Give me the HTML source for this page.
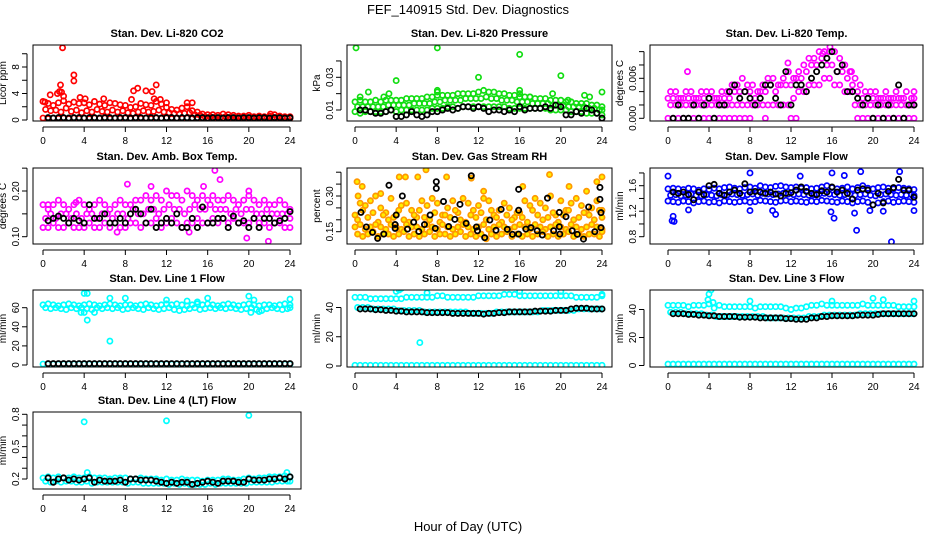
<!DOCTYPE html>
<html><head><meta charset="utf-8"><style>
html,body{margin:0;padding:0;background:#fff;}
svg{display:block;font-family:"Liberation Sans",sans-serif;}
</style></head><body>
<svg id="chart" width="936" height="540" viewBox="0 0 936 540" xmlns="http://www.w3.org/2000/svg">
<text x="468" y="14" text-anchor="middle" font-size="13">FEF_140915  Std. Dev. Diagnostics</text>
<text x="468" y="531" text-anchor="middle" font-size="13">Hour of Day (UTC)</text>
</svg>
<script>
const H=[0,0.5,1,1.5,2,2.5,3,3.5,4,4.5,5,5.5,6,6.5,7,7.5,8,8.5,9,9.5,10,10.5,11,11.5,12,12.5,13,13.5,14,14.5,15,15.5,16,16.5,17,17.5,18,18.5,19,19.5,20,20.5,21,21.5,22,22.5,23,23.5,24];
const H2=[0.25,0.75,1.25,1.75,2.25,2.75,3.25,3.75,4.25,4.75,5.25,5.75,6.25,6.75,7.25,7.75,8.25,8.75,9.25,9.75,10.25,10.75,11.25,11.75,12.25,12.75,13.25,13.75,14.25,14.75,15.25,15.75,16.25,16.75,17.25,17.75,18.25,18.75,19.25,19.75,20.25,20.75,21.25,21.75,22.25,22.75,23.25,23.75,24];
const xTicks=[0,4,8,12,16,20,24];
// CO2
const co2Hi=[2.8,2.5,2.2,2.6,2.9,2.4,2.7,2.5,2.6,2.3,2.8,2.4,2.2,2.6,2.5,2.3,2.2,1.9,2.0,2.5,2.3,2.2,2.8,2.4,1.9,1.6,1.5,1.8,2.0,1.4,1.2,0.9,0.8,0.8,0.7,0.9,0.8,0.7,0.6,0.6,0.7,0.5,0.6,0.5,0.6,0.8,0.6,0.5,0.5];
const co2Mid=[1.6,1.4,1.5,1.2,1.8,1.3,1.5,1.1,1.4,1.2,1.6,1.3,1.2,1.5,1.2,1.4,1.1,1.0,1.2,1.4,1.2,1.3,1.5,1.2,1.1,1.0,0.9,1.0,1.1,0.8,0.7,0.5,0.5,0.4,0.4,0.5,0.4,0.4,0.4,0.3,0.4,0.3,0.4,0.3,0.3,0.4,0.3,0.3,0.3];
const co2Lo=[0.3,0.2,0.3,0.25,0.3,0.2,0.3,0.25,0.3,0.2,0.3,0.25,0.3,0.2,0.3,0.25,0.3,0.2,0.3,0.25,0.3,0.2,0.3,0.25,0.3,0.2,0.3,0.25,0.3,0.2,0.3,0.25,0.3,0.2,0.3,0.25,0.3,0.2,0.3,0.25,0.3,0.2,0.3,0.25,0.3,0.2,0.3,0.25,0.3];
const co2Blk=[null,0.35,0.3,0.35,0.35,0.3,0.35,0.35,0.3,0.35,0.35,0.3,0.35,0.35,0.3,0.35,0.35,0.3,0.35,0.35,0.3,0.35,0.35,0.3,0.35,0.35,0.3,0.35,0.35,0.3,0.35,0.35,0.3,0.35,0.35,0.3,0.35,0.35,0.3,0.35,0.35,0.3,0.35,0.35,0.3,0.35,0.35,0.3,0.35];
const co2OutX=[1.9,3.0,3.0,1.7,1.6,1.8,0.7,1.4,2.0,3.6,4.1,8.6,8.8,9.2,10.0,10.6,11.0,10.8,11.4,12.0,14.0,14.5,5.9,22.1,0.2];
const co2OutY=[10.9,6.8,5.9,5.3,4.3,4.2,3.8,4.0,3.6,3.4,3.2,3.1,4.4,4.8,4.4,4.3,5.3,3.2,3.1,2.6,2.6,2.6,3.2,0.9,2.7];
// Pressure
const pHi=[0.015,0.016,0.015,0.015,0.016,0.015,0.016,0.016,0.016,0.016,0.017,0.017,0.017,0.017,0.018,0.018,0.019,0.019,0.019,0.019,0.020,0.020,0.020,0.020,0.021,0.022,0.021,0.021,0.020,0.020,0.019,0.019,0.018,0.018,0.018,0.017,0.017,0.017,0.016,0.016,0.016,0.015,0.015,0.014,0.014,0.014,0.013,0.013,0.012];
const pMid=[0.012,0.012,0.012,0.012,0.012,0.012,0.013,0.013,0.013,0.013,0.013,0.014,0.014,0.014,0.014,0.015,0.015,0.016,0.016,0.016,0.016,0.017,0.017,0.017,0.017,0.018,0.017,0.017,0.016,0.016,0.016,0.015,0.015,0.015,0.014,0.014,0.014,0.014,0.013,0.013,0.013,0.012,0.012,0.012,0.012,0.011,0.011,0.010,0.010];
const pLo=[0.009,0.008,0.009,0.009,0.009,0.009,0.009,0.010,0.009,0.010,0.010,0.010,0.010,0.010,0.010,0.011,0.011,0.011,0.012,0.012,0.011,0.012,0.012,0.012,0.012,0.012,0.012,0.012,0.012,0.012,0.011,0.011,0.011,0.011,0.011,0.011,0.011,0.011,0.010,0.010,0.010,0.010,0.009,0.009,0.009,0.008,0.008,0.008,0.007];
const pBlk=[null,0.010,0.010,0.009,0.008,0.008,0.009,0.010,0.006,0.006,0.007,0.009,0.007,0.006,0.007,0.009,0.009,0.010,0.011,0.010,0.011,0.012,0.012,0.011,0.012,0.011,0.009,0.010,0.010,0.009,0.010,0.009,0.012,0.010,0.011,0.011,0.011,0.012,0.011,0.013,0.012,0.007,0.007,0.009,0.008,0.011,0.010,0.008,0.005];
const pOutX=[0.1,8,16,20,12,4,8,8,16,16,1.3,3.3,19.2,24,22.3,22.8,0.5,2.8,17.0,20.7];
const pOutY=[0.048,0.048,0.044,0.031,0.030,0.028,0.022,0.021,0.022,0.020,0.021,0.020,0.020,0.021,0.019,0.018,0.018,0.018,0.018,0.016];
// Temp
const tL0=[0,0,0,0,0,0,0,0,0,0,0,0,0,0,0,0,0,null,null,0,null,null,null,null,0,0,null,null,null,null,null,null,null,null,null,null,null,0,0,0,0,0,0,0,0,0,0,0,0];
const tL2=[0.002,0.002,0.002,0.002,0.002,0.002,0.002,0.002,0.002,0.002,0.002,0.002,0.002,0.002,0.002,0.002,0.002,0.002,0.002,0.002,0.002,0.002,0.002,0.002,0.003,0.004,0.004,0.005,0.005,0.005,0.006,0.006,0.005,0.005,0.004,0.004,0.002,0.002,0.002,0.002,0.002,0.002,0.002,0.002,0.002,0.002,0.002,0.002,0.002];
const tL3=[0.003,0.003,0.003,0.003,0.003,0.003,0.003,0.003,0.003,0.003,0.003,0.003,0.003,0.004,0.004,0.004,0.004,0.003,0.004,0.004,0.005,0.004,0.005,0.005,0.005,0.006,0.006,0.007,0.008,0.008,0.009,0.008,0.008,0.007,0.007,0.006,0.005,0.004,0.003,0.003,0.003,0.003,0.003,0.003,0.003,0.003,0.003,0.002,0.003];
const tL4=[0.004,0.004,0.003,0.004,0.004,0.003,0.004,0.004,0.004,0.003,0.004,0.004,0.005,0.005,0.006,0.005,0.005,0.004,0.005,0.006,0.006,0.005,0.006,0.007,0.006,0.007,0.008,0.009,0.009,0.010,0.010,0.010,0.010,0.009,0.008,0.007,0.006,0.005,0.004,0.004,0.004,0.003,0.004,0.003,0.004,0.003,0.004,0.003,0.004];
const tBlk=[null,0.000,0.002,0.000,0.000,0.002,0.000,0.002,0.003,0.000,0.002,0.002,0.004,0.005,0.003,0.004,0.003,0.002,0.003,0.005,0.005,0.003,0.002,0.007,0.002,0.005,0.005,0.004,0.006,0.007,0.008,0.009,0.010,0.007,0.008,0.004,0.004,0.003,0.002,0.003,0.000,0.002,0.000,0.002,0.000,0.005,0.000,0.002,0.002];
const tOutX=[1.9,17.9,11.7,15.1,15.8];
const tOutY=[0.0070,0.0070,0.0083,0.0097,0.0107];
// Ambient box temp
const aHi=[0.17,0.16,0.17,0.18,0.17,0.16,0.17,0.18,0.17,0.16,0.17,0.18,0.17,0.16,0.17,0.18,0.17,0.17,0.18,0.18,0.19,0.18,0.19,0.18,0.20,0.19,0.19,0.18,0.20,0.19,0.18,0.19,0.18,0.19,0.18,0.18,0.19,0.18,0.17,0.18,0.19,0.18,0.17,0.18,0.17,0.17,0.18,0.17,0.16];
const aMid=[0.14,0.15,0.14,0.15,0.15,0.14,0.15,0.14,0.15,0.15,0.14,0.15,0.15,0.14,0.15,0.15,0.14,0.16,0.15,0.15,0.16,0.16,0.15,0.16,0.17,0.16,0.16,0.15,0.16,0.17,0.16,0.16,0.17,0.16,0.16,0.16,0.15,0.16,0.15,0.16,0.16,0.15,0.15,0.16,0.15,0.15,0.15,0.15,0.14];
const aLo=[0.12,0.12,0.13,0.12,0.12,0.13,0.12,0.12,0.12,0.13,0.12,0.12,0.13,0.12,0.13,0.12,0.12,0.13,0.13,0.12,0.13,0.13,0.14,0.12,0.13,0.14,0.13,0.12,0.13,0.13,0.14,0.13,0.13,0.14,0.13,0.14,0.13,0.14,0.13,0.13,0.13,0.14,0.13,0.13,0.12,0.13,0.13,0.12,0.12];
const aBlk=[null,0.135,0.14,0.145,0.14,0.13,0.14,0.135,0.13,0.17,0.14,0.14,0.15,0.13,0.13,0.14,0.13,0.15,0.16,0.15,0.13,0.16,0.12,0.13,0.14,0.13,0.15,0.12,0.12,0.14,0.12,0.165,0.13,0.13,0.14,0.14,0.12,0.145,0.13,0.135,0.12,0.14,0.12,0.14,0.14,0.13,0.135,0.14,0.155];
const aOutX=[16.7,17.2,8.2,10.5,15.6,21.9,19.8,20.0,14.2,7.2,0.5,3.2];
const aOutY=[0.245,0.225,0.215,0.21,0.21,0.09,0.097,0.20,0.11,0.11,0.17,0.175];
// Gas stream RH
const rhLo=[0.14,0.13,0.14,0.15,0.13,0.14,0.14,0.13,0.14,0.15,0.13,0.14,0.13,0.14,0.15,0.13,0.14,0.14,0.13,0.14,0.15,0.13,0.14,0.13,0.14,0.12,0.14,0.13,0.14,0.15,0.13,0.14,0.13,0.14,0.13,0.14,0.15,0.13,0.14,0.13,0.14,0.15,0.13,0.14,0.13,0.14,0.14,0.13,0.15];
const rhMid=[0.17,0.18,0.16,0.17,0.18,0.17,0.16,0.18,0.17,0.16,0.18,0.17,0.17,0.16,0.18,0.17,0.16,0.18,0.17,0.16,0.17,0.18,0.17,0.16,0.17,0.18,0.16,0.17,0.18,0.17,0.16,0.17,0.18,0.17,0.16,0.18,0.17,0.16,0.17,0.18,0.17,0.16,0.18,0.17,0.16,0.17,0.18,0.17,0.16];
const rhUp=[0.22,0.27,0.26,0.28,0.30,0.25,0.23,0.29,0.22,0.26,0.27,0.24,0.21,0.28,0.26,0.29,0.27,0.22,0.25,0.28,0.23,0.29,0.27,0.24,0.26,0.29,0.28,0.22,0.24,0.27,0.25,0.21,0.23,0.28,0.26,0.29,0.27,0.25,0.30,0.22,0.28,0.24,0.27,0.29,0.26,0.23,0.25,0.28,0.24];
const rhUp2=[0.20,0.24,0.21,0.23,0.19,0.22,0.20,0.21,0.24,0.20,0.19,0.22,0.24,0.21,0.20,0.23,0.19,0.22,0.21,0.24,0.20,0.19,0.22,0.21,0.23,0.20,0.24,0.21,0.19,0.22,0.20,0.23,0.21,0.19,0.24,0.22,0.20,0.21,0.23,0.19,0.22,0.24,0.20,0.21,0.23,0.22,0.20,0.24,0.21];
const rhOutX=[0.2,0.7,4.3,4.9,6.1,6.9,8.9,11.3,12.5,16.3,18.9,20.8,24,23.5,22.5,0.3,2.5];
const rhOutY=[0.36,0.34,0.38,0.38,0.38,0.41,0.38,0.375,0.32,0.34,0.39,0.34,0.38,0.36,0.32,0.30,0.31];
const rhBlkX=[0.58,1.1,1.7,2.2,2.8,3.3,3.9,3.9,4.0,4.6,5.1,5.7,6.2,6.75,7.3,7.8,7.9,7.9,8.6,9.1,9.7,10.2,10.8,11.3,11.8,11.9,12.6,13.1,13.7,14.2,14.8,15.3,15.9,15.9,15.9,16.6,17.1,17.7,18.2,18.7,19.3,19.85,19.85,19.9,20.5,21.1,21.6,22.2,22.7,23.3,23.8,23.8,23.9,23.9];
const rhBlkY=[0.231,0.17,0.147,0.122,0.14,0.345,0.18,0.164,0.22,0.30,0.161,0.19,0.151,0.18,0.22,0.164,0.332,0.36,0.277,0.172,0.202,0.265,0.185,0.385,0.17,0.154,0.125,0.199,0.156,0.244,0.16,0.139,0.328,0.24,0.14,0.161,0.167,0.154,0.136,0.291,0.154,0.171,0.231,0.14,0.213,0.154,0.139,0.119,0.254,0.15,0.336,0.286,0.23,0.167];
// Sample flow
const sHi=[1.55,1.56,1.55,1.54,1.56,1.55,1.53,1.55,1.54,1.56,1.55,1.57,1.58,1.56,1.55,1.57,1.58,1.56,1.60,1.58,1.57,1.59,1.60,1.58,1.57,1.58,1.56,1.57,1.55,1.56,1.58,1.60,1.57,1.55,1.56,1.58,1.55,1.57,1.60,1.56,1.55,1.57,1.58,1.56,1.55,1.57,1.56,1.55,1.54];
const sMid=[1.45,1.46,1.44,1.45,1.47,1.45,1.44,1.46,1.45,1.44,1.46,1.45,1.47,1.46,1.45,1.46,1.47,1.45,1.48,1.47,1.46,1.47,1.48,1.47,1.46,1.47,1.46,1.45,1.46,1.47,1.48,1.47,1.46,1.45,1.46,1.47,1.45,1.46,1.47,1.45,1.44,1.46,1.47,1.46,1.45,1.46,1.45,1.46,1.45];
const sLo=[1.36,1.35,1.34,1.36,1.35,1.33,1.35,1.36,1.34,1.35,1.33,1.36,1.35,1.34,1.35,1.36,1.34,1.35,1.37,1.36,1.35,1.34,1.36,1.37,1.35,1.36,1.35,1.34,1.36,1.35,1.37,1.36,1.35,1.34,1.36,1.35,1.33,1.35,1.36,1.34,1.30,1.33,1.35,1.36,1.34,1.35,1.36,1.35,1.34];
const sBlk=[null,1.50,1.48,1.50,1.46,1.38,1.50,1.46,1.60,1.62,1.48,1.45,1.50,1.53,1.48,1.63,1.50,1.51,1.50,1.48,1.50,1.47,1.44,1.48,1.49,1.53,1.58,1.51,1.48,1.46,1.52,1.50,1.58,1.50,1.53,1.48,1.39,1.53,1.55,1.53,1.30,1.48,1.33,1.51,1.57,1.70,1.53,1.53,1.42];
const sOutX=[0,0.5,0.4,0.6,2,8,8,10.2,10.5,12.9,16,15.9,16.2,18.2,18.4,18.8,21.8,22.6,24,21,17.2,19.7];
const sOutY=[1.75,1.12,1.05,1.04,1.22,1.80,1.21,1.21,1.15,1.75,1.80,1.19,1.09,1.17,0.90,1.82,0.72,1.82,1.21,1.20,1.76,1.21];
// Line 1
const l1Hi=[63,64,63,62,63,64,63,62,63,64,63,62,63,64,63,62,63,63,62,63,64,63,62,63,64,63,64,63,62,63,64,63,64,63,62,63,64,63,62,63,64,63,62,63,63,62,63,64,63];
const l1Lo=[60,59,60,59,58,60,59,60,59,58,60,59,60,59,60,58,59,60,59,58,60,59,58,59,60,58,57,58,59,60,58,59,60,59,60,59,60,59,58,59,60,58,57,59,60,59,58,59,60];
const l1Zero=[1,1,1,1,1,1,1,1,1,1,1,1,1,1,1,1,1,1,1,1,1,1,1,1,1,1,1,1,1,1,1,1,1,1,1,1,1,1,1,1,1,1,1,1,1,1,1,1,1];
const l1Blk=[null,1.5,1.5,1.5,1.5,1.5,1.5,1.5,1.5,1.5,1.5,1.5,1.5,1.5,1.5,1.5,1.5,1.5,1.5,1.5,1.5,1.5,1.5,1.5,1.5,1.5,1.5,1.5,1.5,1.5,1.5,1.5,1.5,1.5,1.5,1.5,1.5,1.5,1.5,1.5,1.5,1.5,1.5,1.5,1.5,1.5,1.5,1.5,1.5];
const l1OutX=[4,4.3,3.7,4,4.3,5,6.5,6.5,8,12,14,15,16,20,20.2,20.5,21,24];
const l1OutY=[75,75,55,55,47,55,70,25,70,68,67,66,70,72,55,68,56,69];
// Line 2
const l2Hi=[47,47,47,46,46,46,46,46,46,46,47,47,47,47,47,47,48,48,47,47,47,47,47,47,48,48,48,48,48,49,49,49,48,48,48,48,48,48,48,48,48,48,48,47,47,47,47,47,48];
const l2Lo=[40,40,40,39,39,39,39,39,38,38,38,38,38,37,37,37,37,37,37,37,37,37,36,36,36,36,36,37,37,37,37,37,37,37,37,37,38,38,38,38,38,38,38,39,39,39,39,39,39];
const l2Zero=[0.5,0.5,0.5,0.5,0.5,0.5,0.5,0.5,0.5,0.5,0.5,0.5,0.5,0.5,0.5,0.5,0.5,0.5,0.5,0.5,0.5,0.5,0.5,0.5,0.5,0.5,0.5,0.5,0.5,0.5,0.5,0.5,0.5,0.5,0.5,0.5,0.5,0.5,0.5,0.5,0.5,0.5,0.5,0.5,0.5,0.5,0.5,0.5,0.5];
const l2Blk=[null,39,39,39,38.5,38.5,38,38,37.5,37.5,37,37,37,37,36.5,36.5,36.5,36.5,36.5,36,36,36,36,36,36,35.5,36,36,36.5,36.5,37,37,37,37,37,37.5,37.5,37.5,37.5,38,38,38,39,39.5,39.5,39.5,39,39,39];
const l2OutX=[6.3,4.3,4.0,7.0,16,20,24,4.5];
const l2OutY=[16,52,51,50,51,51,49,53];
// Line 3
const l3Hi=[43,43,43,43,42,43,43,43,44,41,43,42,42,42,42,42,42,41,42,42,42,42,42,41,40,41,41,42,43,43,44,43,43,43,43,43,43,43,44,43,43,43,43,43,43,42,42,42,42];
const l3Lo=[38,38,38,37,37,37,37,36,36,35,35,35,35,35,35,35,35,35,35,34,34,34,34,34,34,34,34,35,35,35,36,36,36,36,36,36,36,37,37,37,37,37,37,37,37,37,37,37,37];
const l3Zero=[1,1,1,1,1,1,1,1,1,1,1,1,1,1,1,1,1,1,1,1,1,1,1,1,1,1,1,1,1,1,1,1,1,1,1,1,1,1,1,1,1,1,1,1,1,1,1,1,1];
const l3Blk=[null,37,37,37,36.5,36.5,36,36,35.5,35.5,35,35,35,35,34.5,34.5,34.5,34.5,34,34,34,34,34,33.5,33.5,33,33,33,34,34,35,35,35.5,35.5,35.5,35.5,35.5,36,36,36,36,36.5,37,37,37,37,37,37,37];
const l3OutX=[4.2,4.0,3.9,4.4,8.0,16.0,20.0,21.0,24.0];
const l3OutY=[54,51,47,45,46,46,48,47,46];
// Line 4
const l4Hi=[0.21,0.22,0.21,0.22,0.21,0.21,0.22,0.21,0.21,0.22,0.21,0.21,0.21,0.20,0.21,0.21,0.21,0.20,0.20,0.21,0.20,0.20,0.20,0.19,0.20,0.19,0.19,0.20,0.19,0.19,0.19,0.18,0.19,0.19,0.19,0.20,0.20,0.19,0.19,0.20,0.21,0.20,0.21,0.21,0.22,0.22,0.22,0.23,0.22];
const l4Lo=[0.18,0.17,0.18,0.17,0.18,0.18,0.17,0.17,0.18,0.16,0.17,0.17,0.17,0.17,0.17,0.17,0.16,0.17,0.17,0.16,0.16,0.16,0.16,0.16,0.15,0.16,0.15,0.16,0.15,0.15,0.15,0.15,0.16,0.15,0.16,0.16,0.16,0.16,0.16,0.16,0.17,0.17,0.17,0.17,0.17,0.18,0.18,0.18,0.18];
const l4Blk=[null,0.21,0.17,0.20,0.21,0.19,0.20,0.19,0.20,0.21,0.17,0.19,0.18,0.18,0.18,0.19,0.17,0.20,0.20,0.19,0.19,0.19,0.18,0.17,0.16,0.17,0.16,0.17,0.17,0.15,0.16,0.17,0.18,0.17,0.16,0.18,0.18,0.18,0.17,0.17,0.20,0.19,0.19,0.19,0.20,0.20,0.21,0.20,0.22];
const l4OutX=[4,12,20,4.3,23.7];
const l4OutY=[0.73,0.74,0.79,0.26,0.26];

const NS='http://www.w3.org/2000/svg';
const svg=document.getElementById('chart');
function mk(tag,attrs,parent){const e=document.createElementNS(NS,tag);for(const k in attrs)e.setAttribute(k,attrs[k]);(parent||svg).appendChild(e);return e;}

function panel(p){
  const g=mk('g',{});
  
  
  const X=v=>p.x0+(v/24)*(p.x24-p.x0);
  const Y=v=>p.p1+(v-p.v1)*(p.p2-p.p1)/(p.v2-p.v1);
  const t=mk('text',{x:(p.L+p.R)/2,y:p.T-8,'text-anchor':'middle','font-size':11,'font-weight':'bold'},g);
  t.textContent=p.title;
  
  
  const xa=mk('g',{},g);
  
  
  mk('line',{x1:X(0),x2:X(24),y1:p.B+6,y2:p.B+6,stroke:'#000'},xa);
  xTicks.forEach(v=>{
    mk('line',{x1:X(v),x2:X(v),y1:p.B+6,y2:p.B+11,stroke:'#000'},xa);
    const tl=mk('text',{x:X(v),y:p.B+23,'text-anchor':'middle','font-size':10},xa);
    tl.textContent=String(v);
    
    
  });
  const ya=mk('g',{},g);
  
  
  mk('line',{x1:p.L-6,x2:p.L-6,y1:Y(p.ticks[0]),y2:Y(p.ticks[p.ticks.length-1]),stroke:'#000'},ya);
  p.ticks.forEach(v=>{
    mk('line',{x1:p.L-11,x2:p.L-6,y1:Y(v),y2:Y(v),stroke:'#000'},ya);
  });
  p.labels.forEach(v=>{
    const yy=Y(v);
    const tl=mk('text',{x:p.L-14,y:yy,'text-anchor':'middle','font-size':10,transform:`rotate(-90 ${p.L-14} ${yy})`},ya);
    tl.textContent=p.fmt(v);
    
    
  });
  const yt=mk('text',{x:p.L-27,y:(p.T+p.B)/2,'text-anchor':'middle','font-size':10,transform:`rotate(-90 ${p.L-27} ${(p.T+p.B)/2})`},g);
  yt.textContent=p.ylab;
  
  
  const cid='c'+p.name;
  const cp=mk('clipPath',{id:cid},g);
  mk('rect',{x:p.L,y:p.T,width:p.R-p.L,height:p.B-p.T},cp);
  const pts=mk('g',{'clip-path':`url(#${cid})`},g);
  
  
  function dot(x,y,col,fill,r,sw){
    if(y===null||y===undefined)return;
    const c=mk('circle',{cx:X(x),cy:Y(y),r:r,fill:fill,stroke:col,'stroke-width':sw},pts);
    
    
  }
  p.layers.forEach((ys,li)=>{const hs=(li%2===1)?H2:H; ys.forEach((y,i)=>dot(hs[i],y,p.col,p.fill,2.6,1.7));});
  p.outX.forEach((x,i)=>dot(x,p.outY[i],p.col,p.fill,2.6,1.7));
  if(p.blkX) p.blkX.forEach((x,i)=>dot(x,p.blkY[i],'#000','none',2.6,1.8));
  else p.blk.forEach((y,i)=>dot(H[i],y,'#000','none',2.6,1.8));
  const box=mk('rect',{x:p.L,y:p.T,width:p.R-p.L,height:p.B-p.T,fill:'none',stroke:'#000'},g);
  
  
}
const C1={L:33,R:301,x0:43,x24:290}, C2={L:347,R:612,x0:355,x24:602}, C3={L:650,R:923,x0:668,x24:914};
const R1={T:45,B:121},R2={T:168,B:244},R3={T:290,B:367},R4={T:412,B:489};
const f1=v=>String(v), f2=v=>v.toFixed(2), f3=v=>v.toFixed(3), fd=v=>v.toFixed(1);
panel(Object.assign({name:'panel-co2',title:'Stan. Dev. Li-820 CO2',ylab:'Licor ppm',v1:0,p1:120,v2:8,p2:67,ticks:[0,2,4,6,8,10],labels:[0,4,8],fmt:f1,col:'#ff0000',fill:'none',layers:[co2Hi,co2Mid,co2Lo],outX:co2OutX,outY:co2OutY,blk:co2Blk},C1,R1));
panel(Object.assign({name:'panel-pressure',title:'Stan. Dev. Li-820 Pressure',ylab:'kPa',v1:0.01,p1:110,v2:0.03,p2:77.3,ticks:[0.01,0.02,0.03,0.04],labels:[0.01,0.03],fmt:f2,col:'#11dd11',fill:'none',layers:[pHi,pMid,pLo],outX:pOutX,outY:pOutY,blk:pBlk},C2,R1));
panel(Object.assign({name:'panel-temp',title:'Stan. Dev. Li-820 Temp.',ylab:'degrees C',v1:0,p1:118.3,v2:0.006,p2:78.3,ticks:[0,0.002,0.004,0.006,0.008,0.010],labels:[0,0.006],fmt:f3,col:'#ff00ff',fill:'none',layers:[tL0,tL2,tL3,tL4],outX:tOutX,outY:tOutY,blk:tBlk},C3,R1));
panel(Object.assign({name:'panel-amb-box-temp',title:'Stan. Dev. Amb. Box Temp.',ylab:'degrees C',v1:0.10,p1:236.7,v2:0.20,p2:191,ticks:[0.10,0.15,0.20,0.25],labels:[0.10,0.20],fmt:f2,col:'#ff00ff',fill:'none',layers:[aHi,aMid,aLo],outX:aOutX,outY:aOutY,blk:aBlk},C1,R2));
panel(Object.assign({name:'panel-gas-rh',title:'Stan. Dev. Gas Stream RH',ylab:'percent',v1:0.15,p1:231.7,v2:0.30,p2:196,ticks:[0.15,0.20,0.25,0.30,0.35,0.40],labels:[0.15,0.30],fmt:f2,col:'#ff9900',fill:'#ffee00',layers:[rhUp,rhUp2,rhMid,rhLo],outX:rhOutX,outY:rhOutY,blkX:rhBlkX,blkY:rhBlkY},C2,R2));
panel(Object.assign({name:'panel-sample-flow',title:'Stan. Dev. Sample Flow',ylab:'ml/min',v1:0.8,p1:236.7,v2:1.6,p2:185.7,ticks:[0.8,1.0,1.2,1.4,1.6,1.8],labels:[0.8,1.2,1.6],fmt:fd,col:'#0000ff',fill:'none',layers:[sHi,sMid,sLo],outX:sOutX,outY:sOutY,blk:sBlk},C3,R2));
panel(Object.assign({name:'panel-line1',title:'Stan. Dev. Line 1 Flow',ylab:'ml/min',v1:0,p1:365,v2:60,p2:307.7,ticks:[0,20,40,60],labels:[0,20,40,60],fmt:f1,col:'#00ffff',fill:'none',layers:[l1Hi,l1Lo,l1Zero],outX:l1OutX,outY:l1OutY,blk:l1Blk},C1,R3));
panel(Object.assign({name:'panel-line2',title:'Stan. Dev. Line 2 Flow',ylab:'ml/min',v1:0,p1:366,v2:40,p2:307.5,ticks:[0,20,40],labels:[0,20,40],fmt:f1,col:'#00ffff',fill:'none',layers:[l2Hi,l2Lo,l2Zero],outX:l2OutX,outY:l2OutY,blk:l2Blk},C2,R3));
panel(Object.assign({name:'panel-line3',title:'Stan. Dev. Line 3 Flow',ylab:'ml/min',v1:0,p1:365.5,v2:40,p2:309.5,ticks:[0,20,40],labels:[0,20,40],fmt:f1,col:'#00ffff',fill:'none',layers:[l3Hi,l3Lo,l3Zero],outX:l3OutX,outY:l3OutY,blk:l3Blk},C3,R3));
panel(Object.assign({name:'panel-line4',title:'Stan. Dev. Line 4 (LT) Flow',ylab:'ml/min',v1:0.2,p1:479,v2:0.8,p2:414.3,ticks:[0.2,0.3,0.4,0.5,0.6,0.7,0.8],labels:[0.2,0.5,0.8],fmt:fd,col:'#00ffff',fill:'none',layers:[l4Hi,l4Lo],outX:l4OutX,outY:l4OutY,blk:l4Blk},C1,R4));
</script>
</body></html>
